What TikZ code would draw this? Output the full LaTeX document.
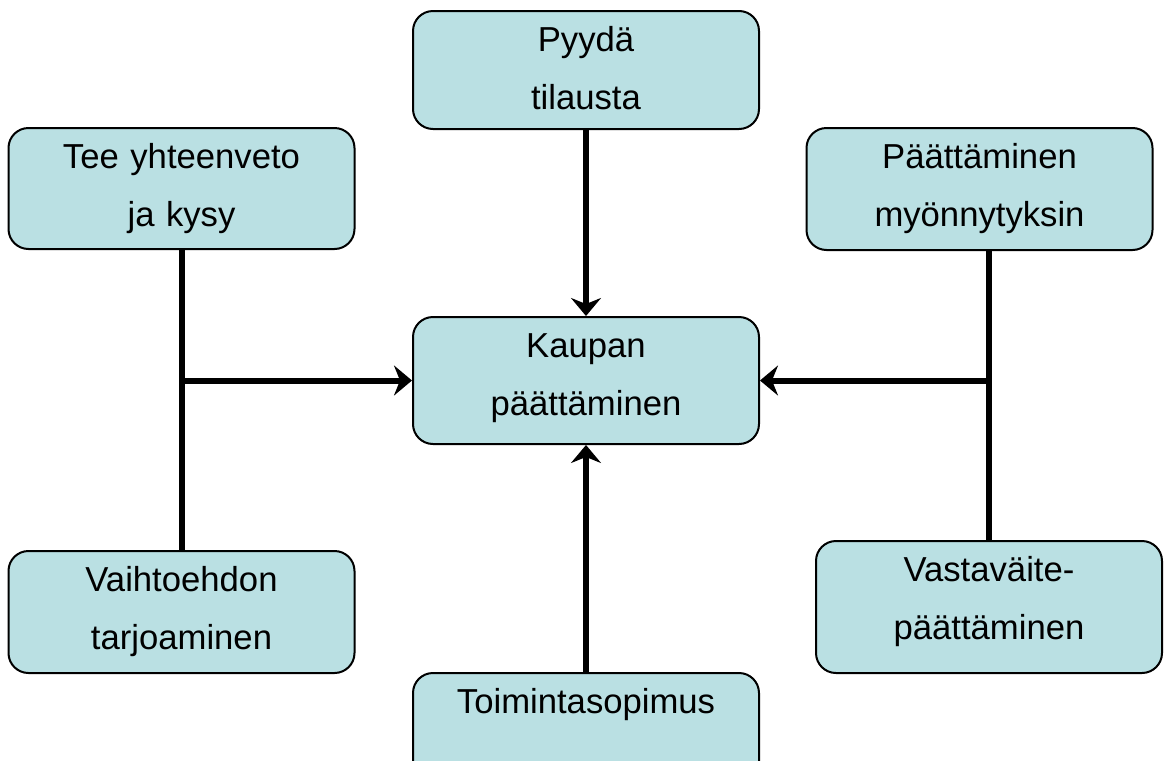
\documentclass[tikz,border=0pt]{standalone}
\usepackage{fontspec}
\setmainfont{Liberation Sans}
\usetikzlibrary{arrows.meta}
\definecolor{boxfill}{RGB}{186,224,227}
\begin{document}
\begin{tikzpicture}[x=0.75pt,y=-0.75pt,
  box/.style={draw=black, line width=1.5pt, fill=boxfill, rounded corners=15pt,
    inner sep=0pt, text width=259.5pt, align=center, text height=30pt,
    anchor=north, font=\fontsize{26}{43.5}\selectfont},
  link/.style={line width=4.5pt},
  arrowlink/.style={link, -{Stealth[length=13.5pt,width=22.5pt,inset=4.5pt]}}]
  \useasboundingbox (0,0) rectangle (1165,761);
  \clip (0,0) rectangle (1165,761);

  % boxes
  \node[box, text depth=58.5pt]  (pt) at (586,10)    {Pyydä\\tilausta};
  \node[box, text depth=60.75pt] (lt) at (181.5,127) {Tee yhteenveto\\ja kysy};
  \node[box, text depth=61.5pt]  (rt) at (979.5,127) {Päättäminen\\myönnytyksin};
  \node[box, text depth=65.25pt] (kp) at (586,316)   {Kaupan\\päättäminen};
  \node[box, text depth=61.5pt]  (lb) at (181.5,550) {Vaihtoehdon\\tarjoaminen};
  \node[box, text depth=69pt]    (rb) at (989,540)   {Vastaväite-\\päättäminen};
  \node[box, text depth=60pt]    (ts) at (586,672)   {Toimintasopimus};

  % vertical arrows into the centre box
  \draw[arrowlink] (pt.south) -- (kp.north);
  \draw[arrowlink] (ts.north) -- (kp.south);

  % left branch
  \draw[link] (lt.south) -- (lb.north);
  \coordinate (lj) at (lb.north |- kp.west);
  \draw[arrowlink] (lj) -- (kp.west);

  % right branch
  \draw[link] (rb.north) -- (rb.north |- rt.south);
  \coordinate (rj) at (rb.north |- kp.east);
  \draw[arrowlink] (rj) -- (kp.east);
\end{tikzpicture}
\end{document}
